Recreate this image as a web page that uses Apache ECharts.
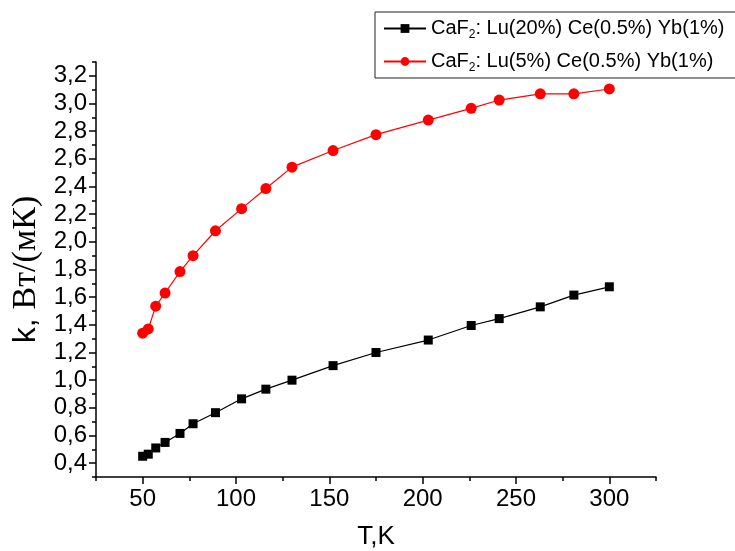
<!DOCTYPE html>
<html>
<head>
<meta charset="utf-8">
<script src="https://cdn.jsdelivr.net/npm/echarts@6/dist/echarts.min.js"></script>
<style>html,body{margin:0;padding:0;background:#fff}#c{width:735px;height:551px}</style>
</head>
<body>
<div id="c"></div>
<script>
const seriesNames = ['CaF2: Lu(20%) Ce(0.5%) Yb(1%)', 'CaF2: Lu(5%) Ce(0.5%) Yb(1%)'];
const temps = [50, 53, 57, 62, 70, 77, 89, 103, 116, 130, 152, 175, 203, 226, 241, 263, 281, 300];
const kLu20 = [0.45, 0.465, 0.51, 0.55, 0.615, 0.685, 0.765, 0.865, 0.935, 1.0, 1.105, 1.2, 1.29, 1.395, 1.445, 1.53, 1.615, 1.675];
const kLu5 = [1.34, 1.37, 1.535, 1.63, 1.785, 1.9, 2.08, 2.24, 2.385, 2.54, 2.66, 2.775, 2.88, 2.965, 3.025, 3.07, 3.07, 3.105];
const xTicks = [50, 100, 150, 200, 250, 300];
const xMinorTicks = [25, 75, 125, 175, 225, 275, 325];
const yTicks = [0.4, 0.6, 0.8, 1.0, 1.2, 1.4, 1.6, 1.8, 2.0, 2.2, 2.4, 2.6, 2.8, 3.0, 3.2];
const yMinorTicks = [0.3, 0.5, 0.7, 0.9, 1.1, 1.3, 1.5, 1.7, 1.9, 2.1, 2.3, 2.5, 2.7, 2.9, 3.1, 3.3];

const chart = echarts.init(document.getElementById('c'), null, {renderer: 'canvas'});
const FONT = '"Liberation Sans", Arial, sans-serif';
const SERIF = '"Liberation Serif", "Times New Roman", serif';
const grid = {left: 96, right: 79, top: 62, bottom: 74, outerBoundsMode: 'none', containLabel: false};
const baseX = {type: 'value', min: 25, max: 325, interval: 25, gridIndex: 0, splitLine: {show: false}};
const baseY = {type: 'value', min: 0.3, max: 3.3, interval: 0.1, gridIndex: 0, splitLine: {show: false}};

chart.setOption({
  animation: false,
  backgroundColor: '#fff',
  grid: grid,
  legend: {
    orient: 'vertical',
    left: 375, top: 12,
    padding: [4, 13, 4, 8],
    itemGap: 8,
    itemWidth: 42, itemHeight: 11,
    borderColor: '#222', borderWidth: 1,
    backgroundColor: '#fff',
    data: seriesNames,
    formatter: function (n) { return n.replace('CaF2', '{b|CaF}{s|2}{b|') + '}'; },
    textStyle: {
      fontFamily: FONT, fontSize: 20, color: '#000',
      rich: {
        b: {fontFamily: FONT, fontSize: 20, color: '#000', lineHeight: 26},
        s: {fontFamily: FONT, fontSize: 12, color: '#000', padding: [13, 0, 0, 0], lineHeight: 26}
      }
    }
  },
  xAxis: [
    Object.assign({}, baseX, {
      position: 'bottom',
      name: 'T,K', nameLocation: 'middle', nameGap: 47,
      nameTextStyle: {fontFamily: FONT, fontSize: 26, color: '#000'},
      axisLine: {show: true, onZero: false, lineStyle: {color: '#000', width: 1.5}},
      axisTick: {show: true, inside: false, length: 7, customValues: xTicks, lineStyle: {color: '#000', width: 1.5}},
      axisLabel: {show: true, margin: 10, customValues: xTicks, fontFamily: FONT, fontSize: 24, color: '#000'}
    }),
    Object.assign({}, baseX, {
      position: 'bottom',
      axisLine: {show: false, onZero: false},
      axisTick: {show: true, inside: false, length: 4, customValues: xMinorTicks, lineStyle: {color: '#000', width: 1.5}},
      axisLabel: {show: false}
    })
  ],
  yAxis: [
    Object.assign({}, baseY, {
      position: 'left',
      name: '{a|k, }{b|Вт/(мК)}', nameLocation: 'middle', nameGap: 48, nameRotate: 90,
      nameTextStyle: {
        fontSize: 34, color: '#000',
        rich: {
          a: {fontFamily: FONT, fontSize: 32, color: '#000'},
          b: {fontFamily: SERIF, fontSize: 34, color: '#000'}
        }
      },
      axisLine: {show: true, onZero: false, lineStyle: {color: '#000', width: 1.5}},
      axisTick: {show: true, inside: false, length: 7, customValues: yTicks, lineStyle: {color: '#000', width: 1.5}},
      axisLabel: {show: true, margin: 9, customValues: yTicks, fontFamily: FONT, fontSize: 24, color: '#000',
        formatter: function (v) { return v.toFixed(1).replace('.', ','); }}
    }),
    Object.assign({}, baseY, {
      position: 'left',
      axisLine: {show: false, onZero: false},
      axisTick: {show: true, inside: false, length: 4, customValues: yMinorTicks, lineStyle: {color: '#000', width: 1.5}},
      axisLabel: {show: false}
    })
  ],
  series: [
    {
      name: seriesNames[0], type: 'line', xAxisIndex: 0, yAxisIndex: 0,
      data: temps.map((t, i) => [t, kLu20[i]]),
      symbol: 'rect', symbolSize: 9,
      lineStyle: {color: '#000', width: 1.2},
      itemStyle: {color: '#000'}
    },
    {
      name: seriesNames[1], type: 'line', xAxisIndex: 0, yAxisIndex: 0,
      data: temps.map((t, i) => [t, kLu5[i]]),
      symbol: 'circle', symbolSize: 11,
      lineStyle: {color: '#ff0000', width: 1.2},
      itemStyle: {color: '#ff0000'}
    }
  ]
});
</script>
</body>
</html>
